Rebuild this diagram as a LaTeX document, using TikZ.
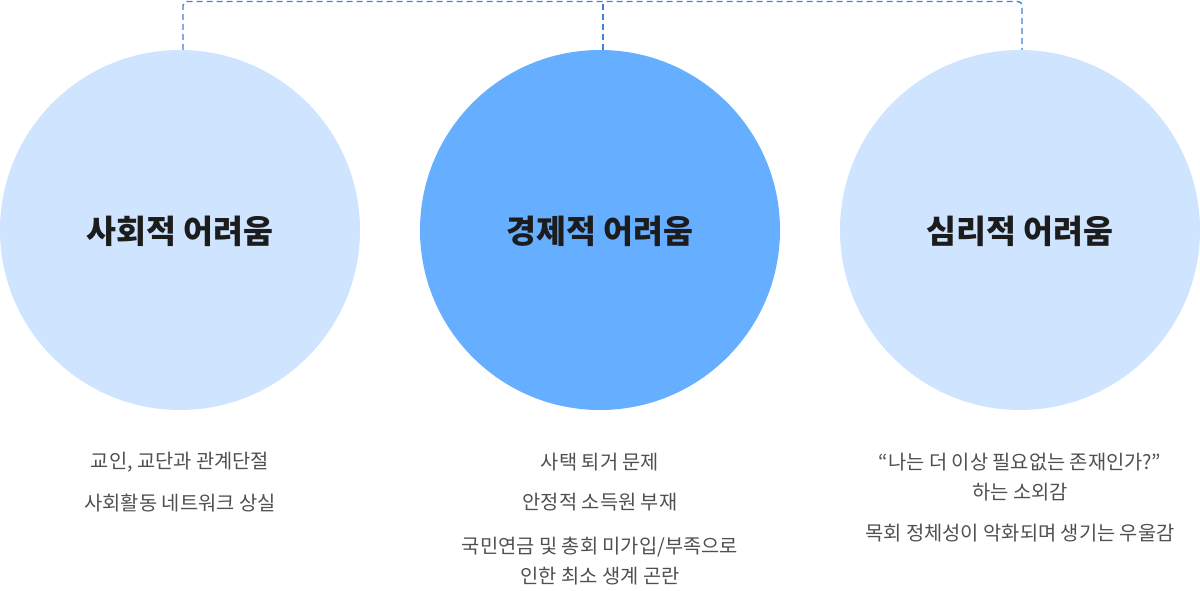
\documentclass[tikz,border=0pt]{standalone}
\usepackage{fontspec}
\setmainfont{Noto Sans CJK KR}
\definecolor{lightc}{HTML}{CFE4FF}
\definecolor{midc}{HTML}{66AEFF}
\definecolor{dashc}{HTML}{3A82DC}
\definecolor{titlec}{HTML}{1C1C1C}
\definecolor{bodyc}{HTML}{505050}
\tikzset{
  circ/.style={circle, minimum size=360pt, inner sep=0pt, draw=none},
  ttl/.style={font=\fontsize{32.5}{38}\selectfont\bfseries, text=titlec},
  body/.style={font=\fontsize{19.8}{30}\selectfont, text=bodyc, align=center},
  link/.style={draw=dashc, line width=1.4pt, dash pattern=on 6pt off 4pt},
}
\begin{document}
\begin{tikzpicture}[x=1pt,y=-1pt]
\useasboundingbox (0,0) rectangle (1200,591);
\node[circ, fill=lightc] (c1) at (180,230) {};
\node[circ, fill=midc] (c2) at (600,230) {};
\node[circ, fill=lightc] (c3) at (1020,230) {};
\node[ttl] (t1) at (180,231) {사회적 어려움};
\node[ttl] (t2) at (600,231) {경제적 어려움};
\node[ttl] (t3) at (1020,231) {심리적 어려움};
\coordinate (top1) at (183,1.5);
\coordinate (top3) at (1022,1.5);
\draw[link, rounded corners=4pt] ([xshift=3pt]c1.north) -- (top1) -- (top3) -- ([xshift=2pt]c3.north);
\draw[link] ([xshift=3pt]c2.north) -- ([xshift=3pt]c2.north |- top1);
\node[body] (a1) at (180,462) {교인, 교단과 관계단절};
\node[body] (a2) at (180,503) {사회활동 네트워크 상실};
\node[body] (b1) at (600,462) {사택 퇴거 문제};
\node[body] (b2) at (600,502) {안정적 소득원 부재};
\node[body] (b3) at (600,561) {국민연금 및 총회 미가입/부족으로\\인한 최소 생계 곤란};
\node[body] (d1) at (1020,477) {“나는 더 이상 필요없는 존재인가?”\\하는 소외감};
\node[body] (d2) at (1020,533) {목회 정체성이 악화되며 생기는 우울감};
\end{tikzpicture}
\end{document}
